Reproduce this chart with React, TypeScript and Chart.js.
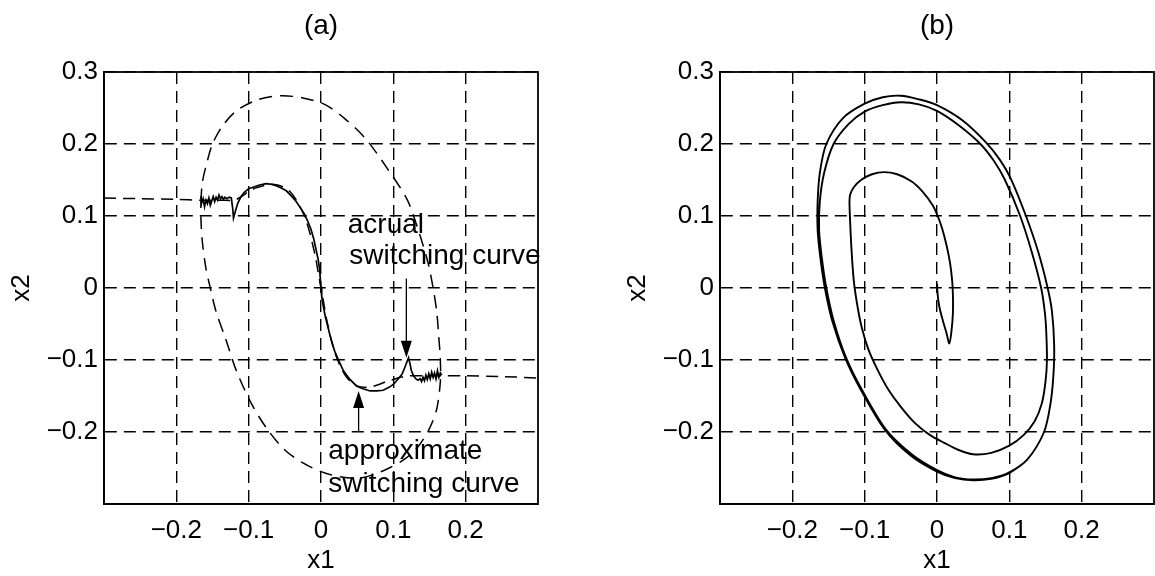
import { useEffect, useRef } from "react";
import { Chart, registerables } from "chart.js";

Chart.register(...registerables);

const FONT = "'Liberation Sans', Arial, Helvetica, sans-serif";

// axis ticks (both panels)
const xTickValues = [-0.2, -0.1, 0, 0.1, 0.2];
const xTickLabels = ["−0.2", "−0.1", "0", "0.1", "0.2"];
const yTickValues = [-0.2, -0.1, 0, 0.1, 0.2, 0.3];
const yTickLabels = ["−0.2", "−0.1", "0", "0.1", "0.2", "0.3"];

// (a) approximate switching curve (dashed)
const approxCurveA: [number, number][] = [
  [-0.3, 0.125], [-0.25, 0.124], [-0.2, 0.123], [-0.166, 0.122], [-0.14, 0.122], [-0.12, 0.122],
  [-0.11, 0.127], [-0.1, 0.134], [-0.09, 0.139], [-0.08, 0.142], [-0.07, 0.144], [-0.06, 0.143],
  [-0.05, 0.139], [-0.042, 0.133], [-0.034, 0.122], [-0.026, 0.107], [-0.02, 0.092], [-0.015, 0.075],
  [-0.011, 0.058], [-0.007, 0.04], [-0.004, 0.022], [0, 0], [0.004, -0.022], [0.007, -0.04],
  [0.011, -0.058], [0.015, -0.075], [0.02, -0.092], [0.026, -0.107], [0.034, -0.122], [0.042, -0.131],
  [0.05, -0.136], [0.06, -0.138], [0.07, -0.137], [0.08, -0.134], [0.09, -0.13], [0.1, -0.127],
  [0.11, -0.124], [0.12, -0.122], [0.14, -0.122], [0.166, -0.122], [0.2, -0.122], [0.25, -0.123],
  [0.3, -0.125],
];

// (a) trajectory (dashed closed loop)
const trajectoryA: [number, number][] = [
  [-0.166, 0.12], [-0.164, 0.147], [-0.157, 0.177], [-0.15, 0.2], [-0.137, 0.224], [-0.117, 0.246],
  [-0.086, 0.262], [-0.055, 0.267], [-0.025, 0.264], [0.005, 0.255], [0.032, 0.236], [0.062, 0.207],
  [0.093, 0.164], [0.119, 0.123], [0.134, 0.082], [0.148, 0.035], [0.155, 0.0], [0.16, -0.033],
  [0.163, -0.07], [0.165, -0.1], [0.165, -0.13], [0.16, -0.168], [0.15, -0.195], [0.136, -0.218],
  [0.118, -0.236], [0.09, -0.252], [0.055, -0.264], [0.025, -0.262], [0.0, -0.255], [-0.025, -0.243],
  [-0.05, -0.225], [-0.075, -0.195], [-0.096, -0.161], [-0.117, -0.115], [-0.132, -0.07],
  [-0.145, -0.033], [-0.153, 0.0], [-0.159, 0.027], [-0.164, 0.064], [-0.166, 0.096], [-0.166, 0.12],
];

// (a) actual switching curve (solid, with chattering at both ends)
const actualCurveA: [number, number][] = [
  [-0.166, 0.128], [-0.165, 0.118], [-0.163, 0.124], [-0.161, 0.113], [-0.159, 0.122], [-0.157, 0.117],
  [-0.155, 0.125], [-0.153, 0.115], [-0.151, 0.121], [-0.149, 0.127], [-0.147, 0.12], [-0.145, 0.126],
  [-0.143, 0.122], [-0.141, 0.129], [-0.139, 0.124], [-0.137, 0.127], [-0.135, 0.123], [-0.133, 0.126],
  [-0.13, 0.124], [-0.127, 0.126], [-0.124, 0.125], [-0.122, 0.11], [-0.121, 0.097], [-0.118, 0.108],
  [-0.115, 0.118], [-0.11, 0.128], [-0.106, 0.133], [-0.1, 0.138], [-0.094, 0.14], [-0.085, 0.143],
  [-0.076, 0.145], [-0.068, 0.144], [-0.062, 0.142], [-0.055, 0.139], [-0.048, 0.135], [-0.041, 0.128],
  [-0.035, 0.121], [-0.029, 0.112], [-0.023, 0.103], [-0.018, 0.092], [-0.014, 0.082], [-0.01, 0.068],
  [-0.007, 0.054], [-0.004, 0.04], [-0.002, 0.027], [-0.001, 0.013], [0, 0], [0.001, -0.012],
  [0.003, -0.024], [0.006, -0.04], [0.01, -0.056], [0.014, -0.072], [0.019, -0.088], [0.025, -0.102],
  [0.031, -0.115], [0.04, -0.127], [0.049, -0.136], [0.058, -0.14], [0.068, -0.143], [0.077, -0.143],
  [0.086, -0.142], [0.094, -0.138], [0.1, -0.134], [0.106, -0.127], [0.112, -0.12], [0.116, -0.11],
  [0.119, -0.102], [0.121, -0.097], [0.123, -0.105], [0.125, -0.115], [0.128, -0.122], [0.131, -0.126],
  [0.134, -0.128], [0.137, -0.126], [0.139, -0.13], [0.141, -0.124], [0.143, -0.129], [0.145, -0.121],
  [0.147, -0.127], [0.149, -0.119], [0.151, -0.126], [0.153, -0.117], [0.155, -0.124], [0.157, -0.118],
  [0.159, -0.126], [0.161, -0.115], [0.163, -0.124], [0.165, -0.118], [0.167, -0.121],
];

// (a) annotations: text anchors and arrows, in data units
const noteText = ["acrual", "switching curve", "approximate", "switching curve"];
const noteX = [0.037, 0.039, 0.01, 0.01];
const noteY = [0.077, 0.034, -0.238, -0.284];
const arrowX = [0.118, 0.052];
const arrowFromY = [0.013, -0.2];
const arrowToY = [-0.097, -0.143];

// (b) phase trajectory spiralling out to the limit cycle
const trajectoryB: [number, number][] = [
  [0, 0.006], [0.001, -0.01], [0.003, -0.025], [0.008, -0.045], [0.013, -0.062], [0.017, -0.077],
  [0.02, -0.06], [0.022, -0.035], [0.022, -0.01], [0.021, 0.01], [0.018, 0.035], [0.013, 0.06],
  [0.007, 0.083], [0.001, 0.1], [-0.006, 0.115], [-0.02, 0.134], [-0.035, 0.148], [-0.055, 0.158],
  [-0.073, 0.161], [-0.09, 0.158], [-0.105, 0.15], [-0.115, 0.14], [-0.12, 0.13], [-0.121, 0.12],
  [-0.12, 0.09], [-0.118, 0.05], [-0.115, 0.01], [-0.11, -0.025], [-0.104, -0.055], [-0.095, -0.085],
  [-0.083, -0.112], [-0.068, -0.14], [-0.05, -0.165], [-0.03, -0.188], [-0.01, -0.204], [0.01, -0.215],
  [0.03, -0.225], [0.05, -0.231], [0.075, -0.229], [0.1, -0.219], [0.12, -0.204], [0.135, -0.185],
  [0.145, -0.16], [0.15, -0.13], [0.152, -0.1], [0.151, -0.06], [0.149, -0.033], [0.144, 0],
  [0.131, 0.05], [0.115, 0.1], [0.094, 0.15], [0.079, 0.176], [0.06, 0.2], [0.03, 0.226], [0, 0.246],
  [-0.025, 0.255], [-0.05, 0.258], [-0.075, 0.254], [-0.1, 0.245], [-0.122, 0.228], [-0.143, 0.2],
  [-0.156, 0.16], [-0.162, 0.12], [-0.163, 0.08], [-0.159, 0.04], [-0.153, 0.0], [-0.143, -0.045],
  [-0.126, -0.096], [-0.104, -0.141], [-0.071, -0.196], [-0.035, -0.231], [0, -0.253], [0.025, -0.263],
  [0.05, -0.266], [0.075, -0.264], [0.1, -0.256], [0.125, -0.238], [0.148, -0.2], [0.157, -0.16],
  [0.161, -0.12], [0.162, -0.08], [0.159, -0.033], [0.153, 0], [0.14, 0.05], [0.123, 0.1],
  [0.102, 0.152], [0.087, 0.178], [0.068, 0.202], [0.035, 0.233], [0, 0.254], [-0.025, 0.262],
  [-0.05, 0.267], [-0.075, 0.265], [-0.1, 0.256], [-0.13, 0.236], [-0.153, 0.2], [-0.162, 0.16],
  [-0.165, 0.12], [-0.165, 0.08], [-0.161, 0.04], [-0.155, 0.0], [-0.145, -0.045], [-0.127, -0.097],
  [-0.105, -0.142], [-0.072, -0.197], [-0.036, -0.233], [0, -0.255], [0.025, -0.264], [0.05, -0.267],
  [0.075, -0.265], [0.1, -0.257], [0.12, -0.243],
];

const toXY = (pts: [number, number][]) => pts.map(([x, y]) => ({ x, y }));

function framePlugin(title: string, notes: boolean) {
  return {
    id: "frame",
    afterDraw(chart: any) {
      const { ctx, chartArea } = chart;
      const { left, right, top, bottom } = chartArea;
      const xs = chart.scales.x;
      const ys = chart.scales.y;
      ctx.save();
      ctx.setLineDash([]);
      ctx.strokeStyle = "#000";
      ctx.lineWidth = 1.8;
      ctx.strokeRect(left, top, right - left, bottom - top);

      ctx.fillStyle = "#000";
      ctx.font = `28px ${FONT}`;
      ctx.textAlign = "center";
      ctx.textBaseline = "middle";
      ctx.fillText(title, (left + right) / 2, 26);

      if (notes) {
        ctx.font = `28px ${FONT}`;
        ctx.textAlign = "left";
        ctx.textBaseline = "alphabetic";
        noteText.forEach((t, i) => {
          ctx.fillText(t, xs.getPixelForValue(noteX[i]), ys.getPixelForValue(noteY[i]));
        });
        ctx.lineWidth = 1.3;
        arrowX.forEach((ax, i) => {
          const px = xs.getPixelForValue(ax);
          const y0 = ys.getPixelForValue(arrowFromY[i]);
          const y1 = ys.getPixelForValue(arrowToY[i]);
          const dir = y1 > y0 ? 1 : -1;
          ctx.beginPath();
          ctx.moveTo(px, y0);
          ctx.lineTo(px, y1 - dir * 14);
          ctx.stroke();
          ctx.beginPath();
          ctx.moveTo(px, y1);
          ctx.lineTo(px - 5.5, y1 - dir * 17);
          ctx.lineTo(px + 5.5, y1 - dir * 17);
          ctx.closePath();
          ctx.fill();
        });
      }
      ctx.restore();
    },
  };
}

function makeConfig(datasets: any[], title: string, notes: boolean): any {
  const tickFont = { family: FONT, size: 26 };
  return {
    type: "scatter",
    data: { datasets },
    plugins: [framePlugin(title, notes)],
    options: {
      animation: false,
      responsive: false,
      events: [],
      layout: { padding: { top: 72, right: 3, bottom: 0, left: 0 } },
      plugins: { legend: { display: false }, tooltip: { enabled: false } },
      elements: { point: { radius: 0 } },
      scales: {
        x: {
          type: "linear",
          min: -0.3,
          max: 0.3,
          afterBuildTicks: (s: any) => {
            s.ticks = xTickValues.map((value) => ({ value }));
          },
          afterFit: (s: any) => {
            s.height = 72;
          },
          ticks: {
            autoSkip: false,
            maxRotation: 0,
            padding: 11,
            color: "#000",
            font: tickFont,
            callback: (_v: any, i: number) => xTickLabels[i],
          },
          grid: { color: "#000", lineWidth: 1.4, drawTicks: false },
          border: { display: true, color: "#000", width: 1.8, dash: [12, 7] },
          title: {
            display: true,
            text: "x1",
            color: "#000",
            font: tickFont,
            padding: { top: 0, bottom: 0 },
          },
        },
        y: {
          type: "linear",
          min: -0.3,
          max: 0.3,
          afterBuildTicks: (s: any) => {
            s.ticks = yTickValues.map((value) => ({ value }));
          },
          afterFit: (s: any) => {
            s.width = 104;
          },
          ticks: {
            autoSkip: false,
            padding: 6,
            color: "#000",
            font: tickFont,
            callback: (_v: any, i: number) => yTickLabels[i],
          },
          grid: { color: "#000", lineWidth: 1.4, drawTicks: false },
          border: { display: true, color: "#000", width: 1.8, dash: [12, 7] },
          title: {
            display: true,
            text: "x2",
            color: "#000",
            font: tickFont,
            padding: { top: 6, bottom: 0 },
          },
        },
      },
    },
  };
}

export default function App() {
  const refA = useRef<HTMLCanvasElement>(null);
  const refB = useRef<HTMLCanvasElement>(null);

  useEffect(() => {
    if (!refA.current || !refB.current) return;
    const line = { showLine: true, borderColor: "#000", pointRadius: 0, fill: false };
    const chartA = new Chart(
      refA.current,
      makeConfig(
        [
          { ...line, data: toXY(approxCurveA), borderWidth: 1.5, borderDash: [12, 7], tension: 0.3 },
          { ...line, data: toXY(trajectoryA), borderWidth: 1.5, borderDash: [13, 8], tension: 0.3 },
          { ...line, data: toXY(actualCurveA), borderWidth: 1.7, tension: 0 },
        ],
        "(a)",
        true
      )
    );
    const chartB = new Chart(
      refB.current,
      makeConfig([{ ...line, data: toXY(trajectoryB), borderWidth: 1.9, tension: 0.3 }], "(b)", false)
    );
    return () => {
      chartA.destroy();
      chartB.destroy();
    };
  }, []);

  return (
    <div
      style={{
        position: "absolute",
        left: 0,
        top: 0,
        width: 1155,
        height: 576,
        overflow: "hidden",
        background: "#fff",
      }}
    >
      <canvas ref={refA} width={541} height={576} style={{ position: "absolute", left: 0, top: 0 }} />
      <canvas ref={refB} width={541} height={576} style={{ position: "absolute", left: 616, top: 0 }} />
    </div>
  );
}
